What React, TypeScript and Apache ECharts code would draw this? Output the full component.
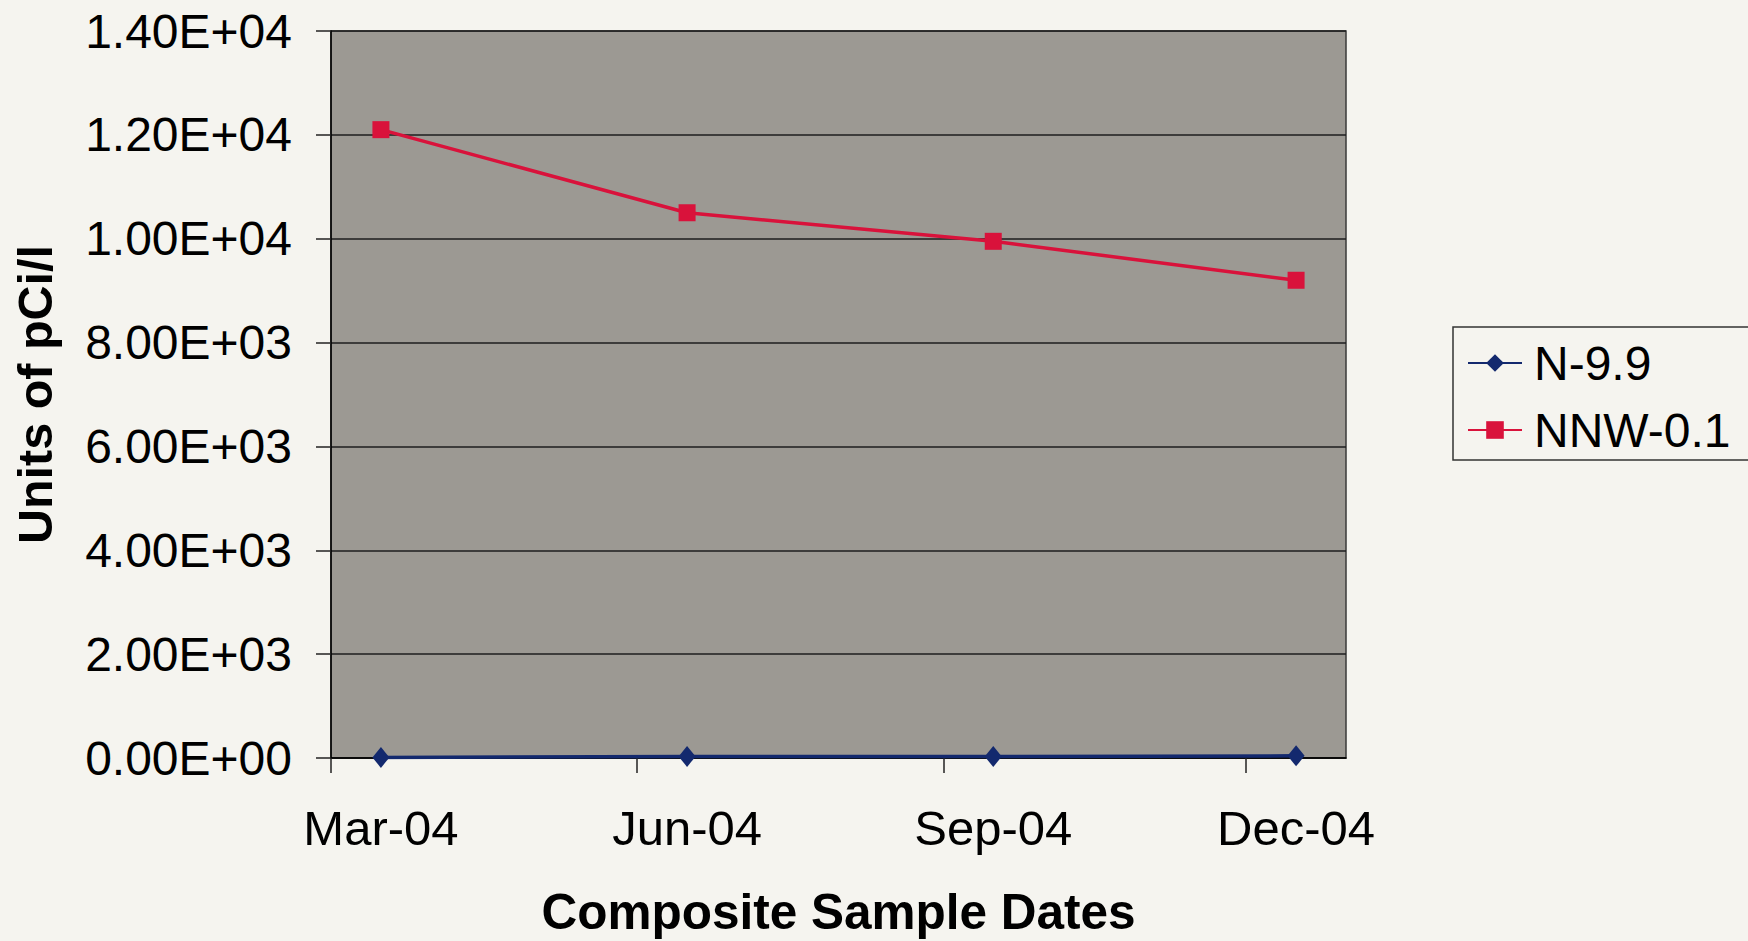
import React, { useEffect, useRef } from "react";
import * as echarts from "echarts";

const MONTHS = ["Jan", "Feb", "Mar", "Apr", "May", "Jun", "Jul", "Aug", "Sep", "Oct", "Nov", "Dec"];

// Composite sample dates (mid-month of each quarter)
const sampleDates = [
  Date.UTC(2004, 2, 16),
  Date.UTC(2004, 5, 16),
  Date.UTC(2004, 8, 16),
  Date.UTC(2004, 11, 16),
];
// Major tick positions (start of each quarter month)
const tickDates = [
  Date.UTC(2004, 2, 1),
  Date.UTC(2004, 5, 1),
  Date.UTC(2004, 8, 1),
  Date.UTC(2004, 11, 1),
];
const axisStart = Date.UTC(2004, 2, 1);
const axisEnd = Date.UTC(2004, 11, 31);

const seriesNames = ["N-9.9", "NNW-0.1"];
const n99 = [12, 30, 28, 41];
const nnw01 = [12100, 10500, 9950, 9200];

const yMin = 0;
const yMax = 14000;
const yStep = 2000;

const FONT = "'Liberation Sans', Arial, Helvetica, sans-serif";

function fmtExp(v: number): string {
  if (v === 0) return "0.00E+00";
  const e = Math.floor(Math.log10(Math.abs(v)));
  const m = v / Math.pow(10, e);
  const sign = e < 0 ? "-" : "+";
  return `${m.toFixed(2)}E${sign}${String(Math.abs(e)).padStart(2, "0")}`;
}

function fmtDate(v: number): string {
  const d = new Date(v);
  return `${MONTHS[d.getUTCMonth()]}-${String(d.getUTCFullYear()).slice(2)}`;
}

export default function App() {
  const ref = useRef<HTMLDivElement>(null);

  useEffect(() => {
    if (!ref.current) return;
    const chart = echarts.init(ref.current, null, { renderer: "svg" });
    chart.setOption({
      animation: false,
      backgroundColor: "#f5f4ef",
      textStyle: { fontFamily: FONT },
      grid: {
        left: 331,
        top: 31,
        right: 402,
        bottom: 181,
        show: true,
        backgroundColor: "#9c9993",
        borderColor: "#3a3a3a",
        borderWidth: 1.5,
      },
      legend: {
        orient: "vertical",
        left: 1453,
        top: 327,
        padding: [12, 40, 6, 14],
        itemGap: 19,
        itemWidth: 54,
        itemHeight: 22,
        borderColor: "#333",
        borderWidth: 1.5,
        backgroundColor: "#f5f4ef",
        textStyle: {
          fontFamily: FONT,
          fontSize: 48,
          lineHeight: 48,
          color: "#000",
          padding: [0, 0, 0, 7],
        },
        data: seriesNames,
      },
      xAxis: {
        type: "value",
        min: axisStart,
        max: axisEnd,
        name: "Composite Sample Dates",
        nameLocation: "middle",
        nameGap: 128,
        nameTextStyle: { fontFamily: FONT, fontSize: 49.5, fontWeight: "bold", color: "#000" },
        axisLine: { show: true, onZero: false, lineStyle: { color: "#000", width: 1.5 } },
        axisTick: {
          show: true,
          length: 15,
          customValues: tickDates,
          lineStyle: { color: "#222", width: 1.5 },
        },
        axisLabel: {
          customValues: sampleDates,
          formatter: (v: number) => fmtDate(v),
          fontFamily: FONT,
          fontSize: 49,
          color: "#000",
          margin: 45,
          hideOverlap: false,
          showMinLabel: true,
          showMaxLabel: true,
        },
        splitLine: { show: false },
      },
      yAxis: {
        type: "value",
        min: yMin,
        max: yMax,
        interval: yStep,
        name: "Units of pCi/l",
        nameLocation: "middle",
        nameGap: 272,
        nameTextStyle: { fontFamily: FONT, fontSize: 48.5, fontWeight: "bold", color: "#000" },
        axisLine: { show: true, lineStyle: { color: "#000", width: 1.5 } },
        axisTick: { show: true, length: 15, lineStyle: { color: "#222", width: 1.5 } },
        axisLabel: {
          formatter: (v: number) => fmtExp(v),
          fontFamily: FONT,
          fontSize: 48,
          color: "#000",
          margin: 39,
        },
        splitLine: { show: true, lineStyle: { color: "#1e1e1e", width: 1.5 } },
      },
      series: [
        {
          name: seriesNames[0],
          type: "line",
          data: sampleDates.map((d, i) => [d, n99[i]]),
          symbol: "diamond",
          symbolSize: [17, 21],
          itemStyle: { color: "#13296e" },
          lineStyle: { color: "#13296e", width: 3.5 },
          z: 3,
        },
        {
          name: seriesNames[1],
          type: "line",
          data: sampleDates.map((d, i) => [d, nnw01[i]]),
          symbol: "rect",
          symbolSize: 17,
          itemStyle: { color: "#d9123b" },
          lineStyle: { color: "#d9123b", width: 3.5 },
          z: 4,
        },
      ],
    });
    return () => chart.dispose();
  }, []);

  return (
    <div
      ref={ref}
      style={{ position: "fixed", left: 0, top: 0, width: 1748, height: 941 }}
    />
  );
}
